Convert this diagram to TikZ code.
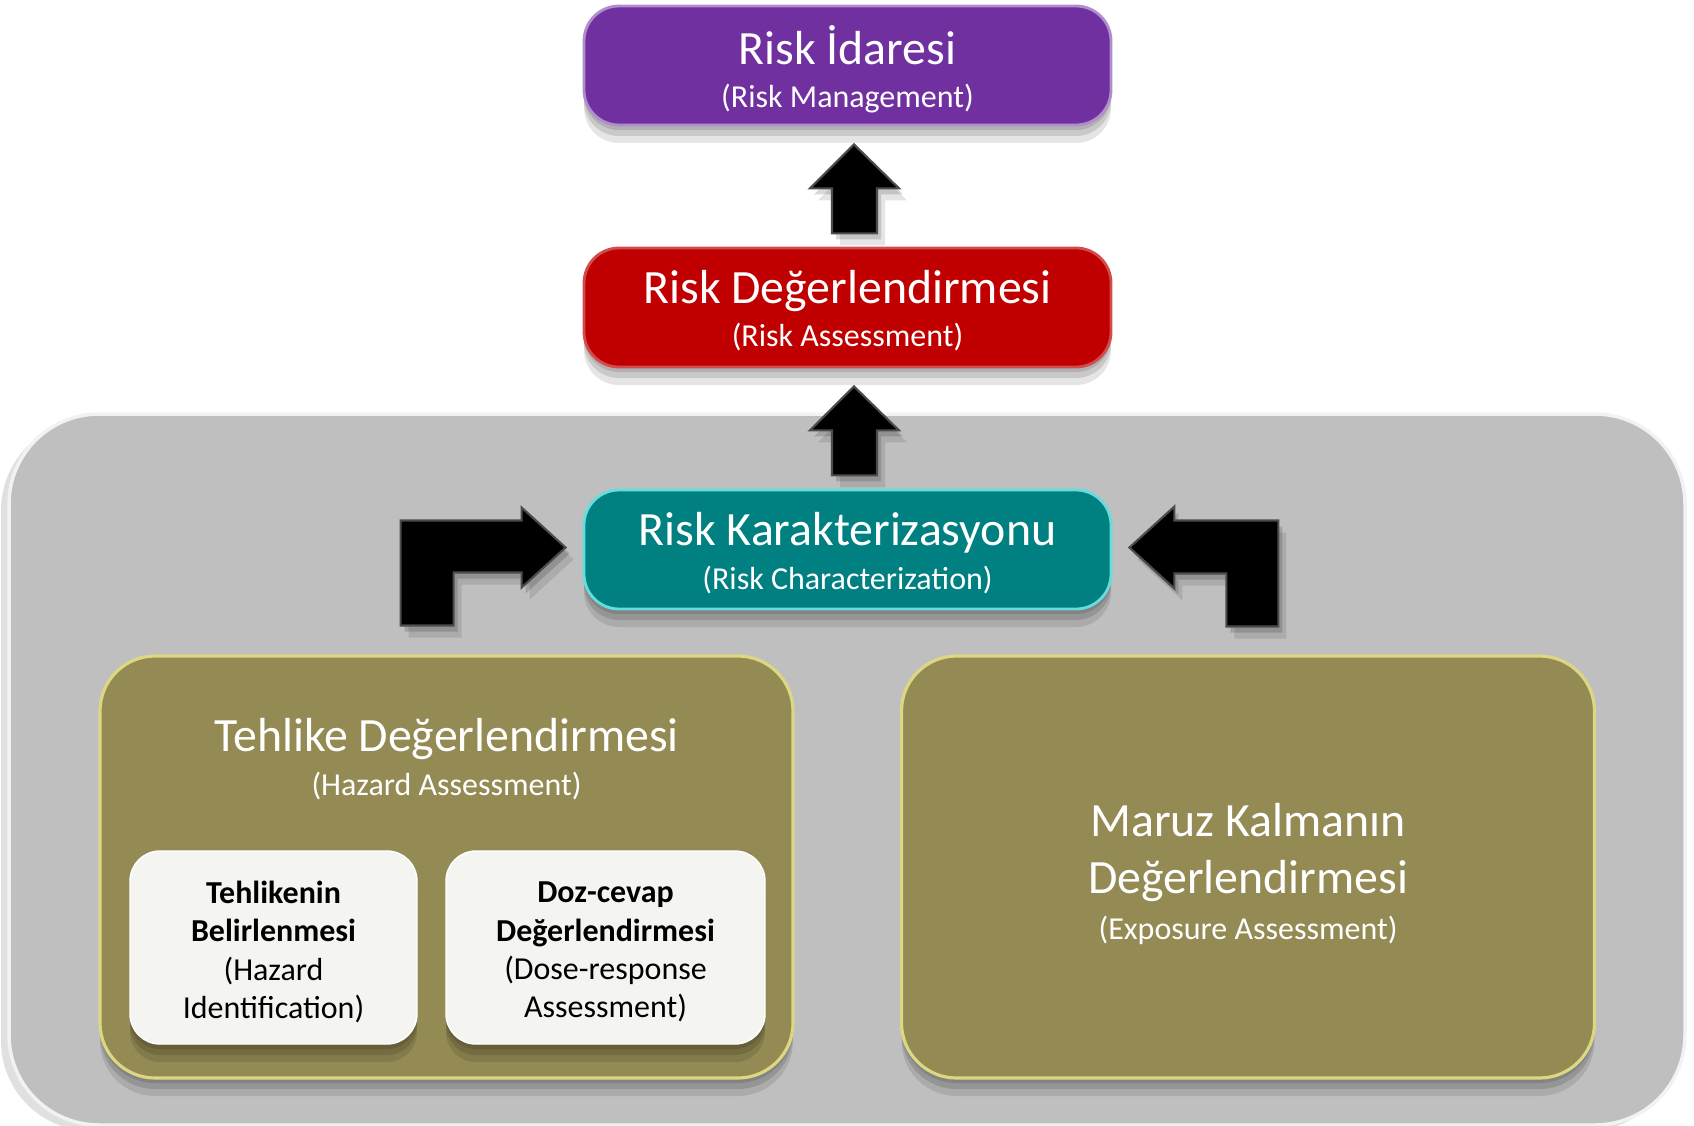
\documentclass[tikz,border=0pt]{standalone}
\usepackage{fontspec}
\setmainfont{Carlito}
\usepackage{xcolor}
\usetikzlibrary{calc,shadows}

\definecolor{mgmtpurple}{HTML}{7030A0}
\definecolor{assessred}{HTML}{C00000}
\definecolor{charteal}{HTML}{008080}
\definecolor{hazolive}{HTML}{948A54}
\definecolor{basegray}{HTML}{BFBFBF}
\definecolor{cardwhite}{HTML}{F4F4F0}

\newcommand\titlesz{\fontsize{13.6}{12.3}\selectfont}
\newcommand\subsz{\fontsize{9.1}{12.3}\selectfont}
\newcommand\cardsz{\fontsize{9.1}{10.9}\selectfont}

\begin{document}
\begin{tikzpicture}[x=0.1mm, y=-0.1mm,
    softshadow/.style={
      drop shadow={shadow xshift=0mm, shadow yshift=-0.5mm, opacity=0.12, fill=black},
      drop shadow={shadow xshift=0mm, shadow yshift=-1.1mm, opacity=0.12, fill=black},
      drop shadow={shadow xshift=0mm, shadow yshift=-1.8mm, opacity=0.1, fill=black}},
    stagebox/.style={rounded corners=3.5mm, minimum width=52.7mm, minimum height=11.9mm,
      line width=0.8pt, softshadow},
    stagetext/.style={text=white, align=center, font=\subsz},
    groupbox/.style={rounded corners=5.5mm, minimum width=69.3mm, minimum height=42.2mm,
      fill=hazolive, draw=hazolive!55!yellow!60!white, line width=0.9pt, softshadow},
    cardbox/.style={rounded corners=3mm, minimum height=19.3mm, fill=cardwhite,
      draw=white, softshadow},
    blockarr/.style={fill=black, draw=gray!60!black, line width=0.6pt, line join=miter,
      drop shadow={shadow xshift=0.4mm, shadow yshift=-0.6mm, opacity=0.15, fill=black},
      drop shadow={shadow xshift=0.8mm, shadow yshift=-1.2mm, opacity=0.1, fill=black}}]
  \useasboundingbox (0,0) rectangle (1694,1125);

  % Grey base panel
  \node[draw=white!90!gray, line width=1pt, fill=basegray, rounded corners=9mm,
    minimum width=167.6mm, minimum height=71.1mm,
    drop shadow={shadow xshift=-0.8mm, shadow yshift=-0.6mm, opacity=0.12, fill=black}]
    (base) at (847,769.5) {};

  % Top stages
  \node[stagebox, fill=mgmtpurple, draw=mgmtpurple!55!white] (ri) at (847.5,65.5) {};
  \node[stagetext] (rit) at (847.5,69) {{\titlesz Risk İdaresi}\\(Risk Management)};
  \node[stagebox, fill=assessred, draw=assessred!70!white] (rd) at (847.5,307.5) {};
  \node[stagetext] (rdt) at (847.5,311) {{\titlesz Risk Değerlendirmesi}\\(Risk Assessment)};
  \node[stagebox, fill=charteal, draw=charteal!45!cyan!60!white] (rk) at (847.5,549.5) {};
  \node[stagetext] (rkt) at (847.5,553) {{\titlesz Risk Karakterizasyonu}\\(Risk Characterization)};

  % Hazard and exposure groups
  \node[groupbox] (haz) at (446.5,867) {};
  \node[stagetext] (hazt) at (446.5,759)
    {{\titlesz Tehlike Değerlendirmesi}\\(Hazard Assessment)};
  \node[groupbox] (exp) at (1248,867) {};
  \node[text=white, align=center, font=\fontsize{13.6}{16.2}\selectfont] (expt) at (1248,874)
    {Maruz Kalmanın\\Değerlendirmesi\\[-3.3pt]{\subsz (Exposure Assessment)}};

  % Cards inside the hazard group
  \node[cardbox, minimum width=28.7mm] (hid) at (273.5,947.5) {};
  \node[align=center, font=\cardsz] (hidt) at (273.5,952)
    {\textbf{Tehlikenin}\\\textbf{Belirlenmesi}\\(Hazard\\Identification)};
  \node[cardbox, minimum width=31.9mm] (dra) at (605.5,947.5) {};
  \node[align=center, font=\cardsz] (drat) at (605.5,952)
    {\textbf{Doz-cevap}\\\textbf{Değerlendirmesi}\\(Dose-response\\Assessment)};

  % Up arrows between stages
  \foreach \hi in {ri,rd}
    \draw[blockarr] ($(\hi.south)+(6.5,18)$) -- ++(45,44) -- ++(-22,0) -- ++(0,45)
      -- ++(-45,0) -- ++(0,-45) -- ++(-22,0) -- cycle;

  % Bent arrows into characterization
  \draw[blockarr] ($(rk.west)+(-17,-2)$) -- ++(-44,-40) -- ++(0,13) -- ++(-121,0)
    -- ++(0,105) -- ++(53,0) -- ++(0,-53) -- ++(68,0) -- ++(0,15) -- cycle;
  \draw[blockarr] ($(rk.east)+(17,-2)$) -- ++(45,-41) -- ++(0,14) -- ++(104,0)
    -- ++(0,106) -- ++(-52,0) -- ++(0,-53) -- ++(-52,0) -- ++(0,15) -- cycle;
\end{tikzpicture}
\end{document}
